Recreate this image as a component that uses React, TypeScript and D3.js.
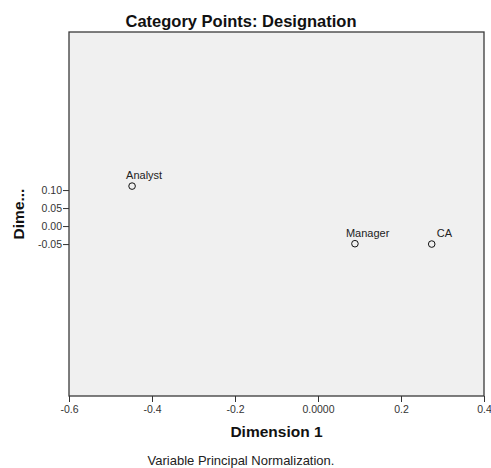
import { useEffect, useRef } from 'react'
import * as d3 from 'd3'

const categories = ['Analyst', 'Manager', 'CA']
const dim1 = [-0.448, 0.089, 0.274]
const dim2 = [0.111, -0.049, -0.05]

const xTicks = [-0.6, -0.4, -0.2, 0, 0.2, 0.4]
const xTickLabels = ['-0.6', '-0.4', '-0.2', '0.0000', '0.2', '0.4']
const yTicks = [0.1, 0.05, 0, -0.05]
const yTickLabels = ['0.10', '0.05', '0.00', '-0.05']

// label nudges (px) relative to each point, as SPSS placed them
const LABEL_DX = [-6, -9, 5]

const W = 491
const H = 468
const FONT = 'Arial, "Liberation Sans", sans-serif'

export default function App() {
  const svgRef = useRef<SVGSVGElement>(null)

  useEffect(() => {
    const svg = d3.select(svgRef.current)
    svg.selectAll('*').remove()

    const margin = { top: 32, right: 7, bottom: 72, left: 69 }
    const innerW = W - margin.left - margin.right
    const innerH = H - margin.top - margin.bottom

    const x = d3.scaleLinear().domain([-0.6, 0.4]).range([0, innerW])
    const y = d3.scaleLinear().domain([-0.472, 0.539]).range([innerH, 0])

    svg.append('rect').attr('width', W).attr('height', H).attr('fill', '#fff')

    // title
    svg.append('text')
      .attr('x', 241).attr('y', 27)
      .attr('text-anchor', 'middle')
      .attr('font-family', FONT).attr('font-weight', 'bold').attr('font-size', '16.5px')
      .attr('fill', '#111')
      .text('Category Points: Designation')

    const g = svg.append('g').attr('transform', `translate(${margin.left},${margin.top})`)

    g.append('rect')
      .attr('width', innerW).attr('height', innerH)
      .attr('fill', '#f0f0f0')
      .attr('stroke', '#3a3a3a').attr('stroke-width', 1.3)

    // x axis
    g.append('g')
      .attr('transform', `translate(0,${innerH})`)
      .call(d3.axisBottom(x).tickValues(xTicks).tickSize(6).tickPadding(4)
        .tickFormat((_, i) => xTickLabels[i]))
      .call(ax => {
        ax.select('.domain').remove()
        ax.selectAll('.tick line').attr('stroke', '#333')
        ax.selectAll('text').attr('fill', '#333').attr('font-size', '10.5px').attr('font-family', FONT)
      })

    // y axis
    g.append('g')
      .call(d3.axisLeft(y).tickValues(yTicks).tickSize(6).tickPadding(1)
        .tickFormat((_, i) => yTickLabels[i]))
      .call(ax => {
        ax.select('.domain').remove()
        ax.selectAll('.tick line').attr('stroke', '#333')
        ax.selectAll('text').attr('fill', '#333').attr('font-size', '10.5px').attr('font-family', FONT)
      })

    // points
    const pts = g.selectAll('.pt').data(categories).enter().append('g')
    pts.append('circle')
      .attr('cx', (_, i) => x(dim1[i]))
      .attr('cy', (_, i) => y(dim2[i]))
      .attr('r', 3.3)
      .attr('fill', 'none')
      .attr('stroke', '#111').attr('stroke-width', 1)
    pts.append('text')
      .attr('x', (_, i) => x(dim1[i]) + LABEL_DX[i])
      .attr('y', (_, i) => y(dim2[i]) - 7)
      .attr('font-family', FONT).attr('font-size', '11px')
      .attr('fill', '#222')
      .text(d => d)

    // axis titles
    svg.append('text')
      .attr('x', margin.left + innerW / 2).attr('y', 437)
      .attr('text-anchor', 'middle')
      .attr('font-family', FONT).attr('font-weight', 'bold').attr('font-size', '15.5px')
      .attr('fill', '#111')
      .text('Dimension 1')

    svg.append('text')
      .attr('transform', `translate(24,${margin.top + innerH / 2}) rotate(-90)`)
      .attr('text-anchor', 'middle')
      .attr('font-family', FONT).attr('font-weight', 'bold').attr('font-size', '15.5px')
      .attr('fill', '#111')
      .text('Dime...')

    svg.append('text')
      .attr('x', 241).attr('y', 465)
      .attr('text-anchor', 'middle')
      .attr('font-family', FONT).attr('font-size', '13px')
      .attr('fill', '#222')
      .text('Variable Principal Normalization.')
  }, [])

  return (
    <svg
      ref={svgRef}
      width={W}
      height={H}
      style={{ position: 'fixed', left: 0, top: 0, display: 'block' }}
    />
  )
}
